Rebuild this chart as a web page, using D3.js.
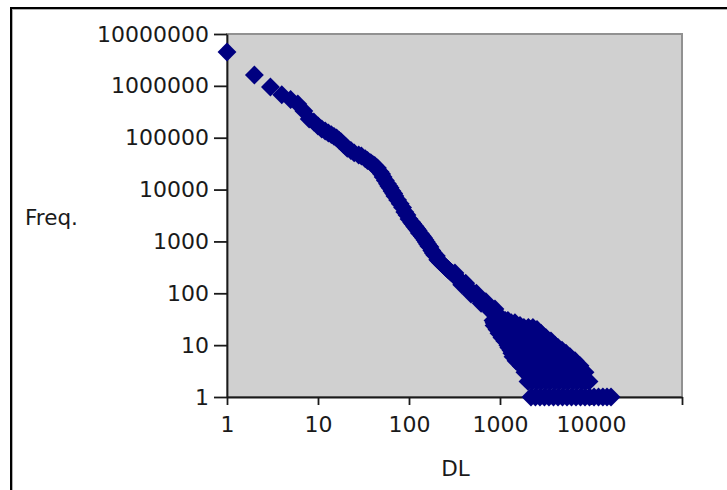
<!DOCTYPE html>
<html>
<head>
<meta charset="utf-8">
<script src="https://cdn.jsdelivr.net/npm/d3@7"></script>
<style>
body { margin: 0; background: #fff; }
text { font-family: "DejaVu Sans", sans-serif; }
</style>
</head>
<body>
<div id="chart"></div>
<script>
// main curve: DL vs frequency
const dl = [1, 2, 3, 4, 5, 6, 7, 8, 9, 10, 11, 12, 13, 14, 15, 16, 17, 18, 19, 20, 21, 23, 25, 28, 30, 33, 35, 38, 40, 42,
    45, 48, 50, 52, 55, 58, 60, 62, 65, 68, 70, 75, 80, 85, 90, 95,
    100, 107, 110, 115, 118, 122, 126, 130, 135, 140, 145, 150, 155, 160, 165, 170, 178, 185, 192, 200, 207, 215,
    222, 230, 237, 245, 252, 260, 270, 280, 290, 300, 312, 325, 337, 350, 362, 375, 387, 400, 412, 425, 437, 450,
    462, 475, 487, 500, 515, 530, 550, 570, 590, 610, 630, 650, 675, 700, 725, 750, 775, 800, 825, 850, 875, 900,
    925, 950];
const freq = [4500000, 1620000, 950000, 673000, 546000, 447000, 327000, 230000, 201000, 168000, 147000, 135000, 123000,
    115000, 106000, 99000, 90000, 83000, 74300, 69000, 62500, 56700, 50900, 46400, 44400, 39500, 36400, 33100, 30500,
    29200, 26100, 22000, 20000, 17500, 15000, 13000, 11700, 10800, 9400, 8400, 7500, 6300, 5300, 4530, 3700, 3230,
    2700, 2340, 2200, 1990, 1880, 1740, 1620, 1460, 1370, 1260, 1160, 1070, 975, 893, 820, 780, 671, 598, 547, 524,
    445, 420, 394, 375, 353, 336, 318, 303, 284, 269, 253, 245, 223, 212, 198, 189, 176, 169, 157, 151, 141, 136,
    129, 125, 117, 113, 107, 104, 98, 95, 88, 84, 78, 76, 71, 69, 64, 61, 57, 56, 52, 50, 48, 47, 44, 42, 40, 39];

// scattered points around the band
const spreadDL = [320, 380, 420, 480, 550, 620, 700, 800, 880, 950];
const spreadFreq = [246, 146, 156, 97, 100, 64, 69, 44, 50, 34];

// tail: low frequencies, many DL values each
const tailFreq = [1, 2, 3, 4, 5, 6, 7, 8, 9, 10, 12, 14, 17, 20, 22, 24, 27, 30];
const tailDL = [
    [2190, 2450, 2750, 3080, 3450, 3870, 4340, 4860, 5450, 6110, 6840, 7670, 8590, 9630, 10800, 12100, 13500, 15000, 16600],
    [2030, 2280, 2550, 2860, 3200, 3590, 4020, 4510, 5050, 5660, 6340, 7100, 7960, 8700, 9510],
    [1880, 2110, 2360, 2650, 2970, 3330, 3730, 4180, 4680, 5250, 5880, 6500, 7200, 7900, 8590],
    [1700, 1910, 2140, 2400, 2680, 3010, 3370, 3780, 4230, 4740, 5310, 5900, 6500, 7000, 7570],
    [1500, 1680, 1880, 2110, 2360, 2650, 2970, 3330, 3730, 4180, 4680, 5200, 5730, 6200, 6670],
    [1390, 1560, 1750, 1960, 2190, 2460, 2750, 3080, 3450, 3870, 4340, 4800, 5310, 5880],
    [1350, 1520, 1700, 1910, 2140, 2400, 2680, 3010, 3370, 3780, 4230, 4740, 5310],
    [1320, 1480, 1660, 1860, 2080, 2330, 2620, 2930, 3280, 3630, 4020, 4400, 4800],
    [1250, 1400, 1570, 1760, 1970, 2210, 2480, 2780, 3110, 3490, 3900, 4340],
    [1220, 1370, 1540, 1720, 1930, 2160, 2420, 2710, 3050, 3300, 3540, 3780, 4020],
    [1130, 1270, 1430, 1600, 1790, 2010, 2250, 2520, 2820, 3200, 3630],
    [1050, 1180, 1320, 1480, 1660, 1860, 2080, 2330, 2620, 2900, 3200],
    [975, 1090, 1220, 1370, 1540, 1720, 1930, 2130, 2360, 2580, 2820],
    [927, 1040, 1160, 1300, 1460, 1640, 1840, 2010, 2190, 2370, 2550],
    [910, 1020, 1150, 1290, 1450, 1630, 1830, 2050, 2300],
    [860, 960, 1080, 1210, 1350, 1500, 1660],
    [860, 960, 1080, 1210, 1330, 1460],
    [838, 940, 1050, 1140, 1220]
];

const xTicks = [1, 10, 100, 1000, 10000, 100000];
const xTickLabels = ["1", "10", "100", "1000", "10000", ""];
const yTicks = [1, 10, 100, 1000, 10000, 100000, 1000000, 10000000];

const points = dl.map((d, i) => ({dl: d, freq: freq[i]}))
    .concat(spreadDL.map((d, i) => ({dl: d, freq: spreadFreq[i]})))
    .concat(tailFreq.flatMap((f, i) => tailDL[i].map(d => ({dl: d, freq: f}))));

const svg = d3.select("#chart")
    .append("svg")
    .attr("width", 727)
    .attr("height", 490);

// outer frame
svg.append("rect")
    .attr("x", 12.5).attr("y", 9.5)
    .attr("width", 900).attr("height", 700)
    .attr("fill", "none").attr("stroke", "#b0b0b0").attr("stroke-width", 1);
svg.append("rect")
    .attr("x", 11).attr("y", 8)
    .attr("width", 900).attr("height", 700)
    .attr("fill", "none").attr("stroke", "#000").attr("stroke-width", 2);

const plotLeft = 227, plotRight = 682, plotTop = 34, plotBottom = 397;

const x = d3.scaleLog().domain([1, 100000]).range([plotLeft, plotRight]);
const y = d3.scaleLog().domain([1, 10000000]).range([plotBottom, plotTop]);

svg.append("rect")
    .attr("x", plotLeft).attr("y", plotTop)
    .attr("width", plotRight - plotLeft).attr("height", plotBottom - plotTop)
    .attr("fill", "#d0d0d0")
    .attr("stroke", "#919191")
    .attr("stroke-width", 2);

svg.append("g")
    .attr("transform", "translate(0," + plotBottom + ")")
    .call(d3.axisBottom(x)
        .tickValues(xTicks)
        .tickFormat((d, i) => xTickLabels[i])
        .tickSize(8)
        .tickSizeOuter(0)
        .tickPadding(11));

svg.append("g")
    .attr("transform", "translate(" + plotLeft + ",0)")
    .call(d3.axisLeft(y)
        .tickValues(yTicks)
        .tickFormat(d3.format("d"))
        .tickSize(13)
        .tickSizeOuter(0)
        .tickPadding(5));

svg.selectAll(".domain, .tick line")
    .attr("stroke", "#1a1a1a")
    .attr("stroke-width", 1.8);
svg.selectAll(".tick text")
    .attr("fill", "#1a1a1a")
    .style("font-size", "22px")
    .style("font-family", "'DejaVu Sans', sans-serif");

svg.append("text")
    .attr("x", 25).attr("y", 225)
    .attr("fill", "#1a1a1a")
    .style("font-size", "21.5px")
    .text("Freq.");

svg.append("text")
    .attr("x", (plotLeft + plotRight) / 2 + 1).attr("y", 476)
    .attr("text-anchor", "middle")
    .attr("fill", "#1a1a1a")
    .style("font-size", "21.5px")
    .text("DL");

const diamond = d3.symbol().type(d3.symbolSquare).size(178);

svg.append("g")
    .selectAll("path")
    .data(points)
    .join("path")
    .attr("d", diamond)
    .attr("transform", d => "translate(" + x(d.dl) + "," + y(d.freq) + ") rotate(45)")
    .attr("fill", "#000080");
</script>
</body>
</html>
